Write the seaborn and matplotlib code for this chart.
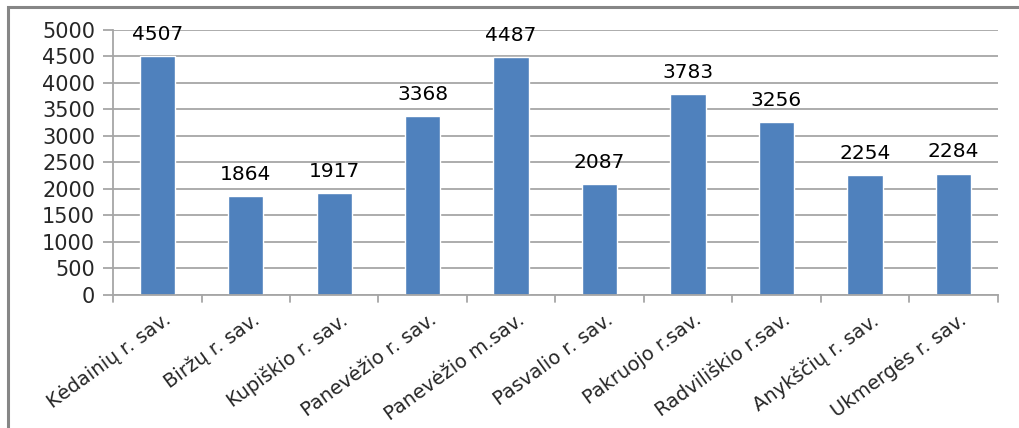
import matplotlib
matplotlib.use("Agg")
import matplotlib.pyplot as plt
import seaborn as sns
import pandas as pd
from matplotlib.patches import Rectangle
import matplotlib.transforms as mtransforms

categories = ["Kėdainių r. sav.", "Biržų r. sav.", "Kupiškio r. sav.", "Panevėžio r. sav.",
              "Panevėžio m.sav.", "Pasvalio r. sav.", "Pakruojo r.sav.", "Radviliškio r.sav.",
              "Anykščių r. sav.", "Ukmergės r. sav."]
values = [4507, 1864, 1917, 3368, 4487, 2087, 3783, 3256, 2254, 2284]
yticks = [0, 500, 1000, 1500, 2000, 2500, 3000, 3500, 4000, 4500, 5000]

sns.set_theme(style="white")
plt.rcParams['font.family'] = ['DejaVu Sans']

df = pd.DataFrame({"cat": categories, "val": values})

fig = plt.figure(figsize=(10.19, 4.28), dpi=100)
ax = fig.add_axes([0.111, 0.311, 0.868, 0.619])

grid_c = "#A6A6A6"
for y in yticks:
    ax.axhline(y, color=grid_c, lw=1.3, zorder=0)

sns.barplot(data=df, x="cat", y="val", color="#4F81BD", saturation=1, width=0.4, ax=ax, zorder=2)

for i, v in enumerate(values):
    ax.annotate(str(v), (i, v), xytext=(0, 9), textcoords="offset points",
                ha="center", va="bottom", fontsize=14.5, color="#000000")

ax.set_ylim(0, 5000)
ax.set_xlim(-0.5, len(categories) - 0.5)
ax.set_yticks(yticks)
ax.set_yticklabels([str(y) for y in yticks], fontsize=15)
ax.set_xticks(range(len(categories)))
ax.set_xticklabels(categories, rotation=36, ha="right", rotation_mode="anchor", fontsize=14)
ax.tick_params(axis="x", length=0, pad=11)
ax.tick_params(axis="y", length=7, width=1.3, color=grid_c, left=True, pad=6)
off = mtransforms.ScaledTranslation(6 / 100, 0, fig.dpi_scale_trans)
for lab in ax.get_xticklabels():
    lab.set_transform(lab.get_transform() + off)
ax.set_xlabel("")
ax.set_ylabel("")

for s in ["top", "right"]:
    ax.spines[s].set_visible(False)
ax.spines["left"].set_color(grid_c)
ax.spines["left"].set_linewidth(1.3)
ax.spines["bottom"].set_color(grid_c)
ax.spines["bottom"].set_linewidth(1.3)

# tick marks between categories
for b in [i - 0.5 for i in range(len(categories) + 1)]:
    ax.plot([b, b], [0, -130], color=grid_c, lw=1.3, clip_on=False, zorder=3)

# outer frame
fig.patches.append(Rectangle((8 / 1019, -0.1), 1.2, (428 - 7) / 428 + 0.1, transform=fig.transFigure,
                             fill=False, edgecolor="#868686", lw=2.2))

fig.savefig("out.png", dpi=100)
